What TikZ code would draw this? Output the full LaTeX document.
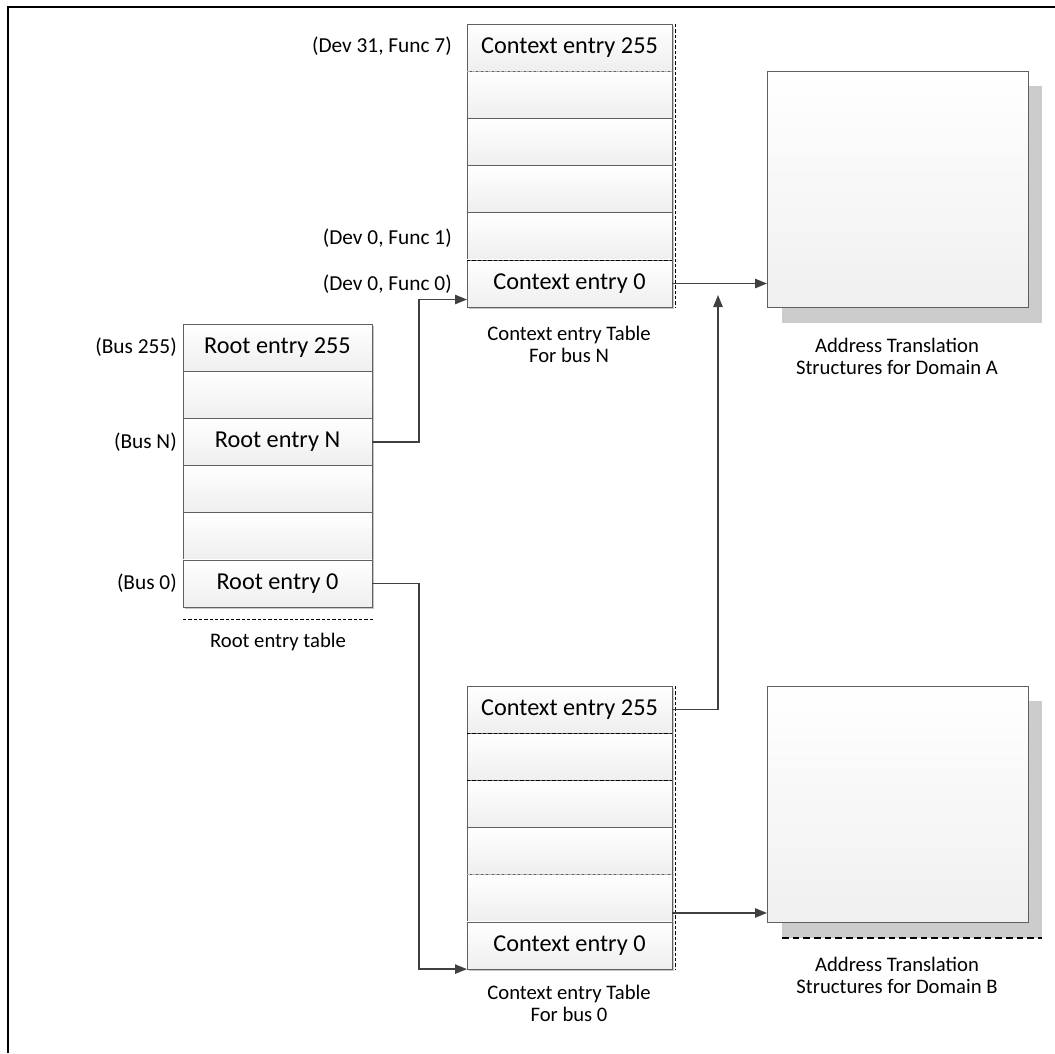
\documentclass[tikz,border=0pt]{standalone}
\usepackage{fontspec}
\setmainfont{Carlito}
\usetikzlibrary{arrows.meta,shadows,calc}
\begin{document}
\begin{tikzpicture}[x=0.75pt,y=-0.75pt,
  cell/.style={draw=gray!75!black, line width=0.6pt, top color=white, bottom color=gray!13,
    minimum width=153.75pt, minimum height=35.4pt, inner sep=0pt, outer sep=0pt,
    font=\fontsize{18.2}{21}\selectfont,
    drop shadow={shadow xshift=1.6pt, shadow yshift=-1.6pt, fill=gray!45, opacity=1}},
  rcell/.style={cell, minimum width=141.75pt},
  dom/.style={draw=gray!75!black, line width=0.6pt, top color=white, bottom color=gray!12,
    minimum width=195.75pt, minimum height=177pt, inner sep=0pt, outer sep=0pt},
  lab/.style={font=\fontsize{16}{19}\selectfont, inner sep=0pt, anchor=east},
  captext/.style={font=\fontsize{15.5}{16.5}\selectfont, align=center, inner sep=0pt},
  arr/.style={draw=black!75, line width=1.1pt, -{Triangle[length=9pt,width=7pt]}},
  dsh/.style={line width=0.6pt, dash pattern=on 2.5pt off 1.5pt}
]
\useasboundingbox (0,0) rectangle (1055,1053);
% frame
\draw[line width=2pt] (8,1053) -- (8,7) -- (1055,7);

% shadows of domain boxes
\fill[gray!40] (782,86) rectangle (1042,323);
\fill[gray!40] (782,701) rectangle (1042,938);
\draw[line width=1pt, dash pattern=on 5pt off 3pt] (782,938) -- (1042,938);
\node[dom] (domA) at (897.5,189) {};
\node[dom] (domB) at (897.5,804) {};

% context table for bus N
\node[cell] (n255) at (569.5,47.6) {Context entry 255};
\node[cell] (n5) at (569.5,94.8) {};
\node[cell] (n4) at (569.5,141.9) {};
\node[cell] (n3) at (569.5,189.1) {};
\node[cell] (n1) at (569.5,236.3) {};
\node[cell] (n0) at (569.5,283.5) {Context entry 0};
\draw[dsh] (675,24) -- (675,308);
\draw[dsh] (n0.north west) -- (n0.north east);
\draw[dsh, gray!60] (n5.north west) -- (n5.north east);

% root table
\node[rcell] (r255) at (277.5,347.6) {Root entry 255};
\node[rcell] (r4) at (277.5,394.8) {};
\node[rcell] (rN) at (277.5,441.9) {Root entry N};
\node[rcell] (r2) at (277.5,489.1) {};
\node[rcell] (r1) at (277.5,536.3) {};
\node[rcell] (r0) at (277.5,583.5) {Root entry 0};
\draw[dsh] (183,619) -- (374,619);

% context table for bus 0
\node[cell] (z255) at (569.5,709.6) {Context entry 255};
\node[cell] (z4) at (569.5,756.8) {};
\node[cell] (z3) at (569.5,803.9) {};
\node[cell] (z2) at (569.5,851.1) {};
\node[cell] (z1) at (569.5,898.3) {};
\node[cell] (z0) at (569.5,945.5) {Context entry 0};
\draw[dsh] (675,686) -- (675,970);
\draw[dsh] (z4.north west) -- (z4.north east);
\draw[dsh] (z3.north west) -- (z3.north east);
\draw[dsh, gray!60] (z1.north west) -- (z1.north east);

% side labels
\node[lab] (l1) at (452,46) {(Dev 31, Func 7)};
\node[lab] (l2) at (452,238) {(Dev 0, Func 1)};
\node[lab] (l3) at (452,284) {(Dev 0, Func 0)};
\node[lab] (l4) at (177,347) {(Bus 255)};
\node[lab] (l5) at (177,442) {(Bus N)};
\node[lab] (l6) at (177,583) {(Bus 0)};

% captions
\node[captext] (c1) at (569,344) {Context entry Table\\For bus N};
\node[captext] (c2) at (897,356) {Address Translation\\Structures for Domain A};
\node[captext] (c3) at (278,642) {Root entry table};
\node[captext] (c4) at (569,1003) {Context entry Table\\For bus 0};
\node[captext] (c5) at (897,975) {Address Translation\\Structures for Domain B};

% connectors
\coordinate (upend) at (718,295);
\draw[arr] (rN.east) -- (419,441.9) |- ([yshift=-12pt]n0.west);
\draw[arr] (r0.east) -- (419,583.5) |- (z0.south west);
\draw[arr] (n0.east) -- (n0.east -| domA.west);
\draw[arr] (z255.east) -| (upend);
\draw[arr] ([yshift=-11pt]z1.east) -- ([yshift=-11pt]z1.east -| domB.west);
\end{tikzpicture}
\end{document}
